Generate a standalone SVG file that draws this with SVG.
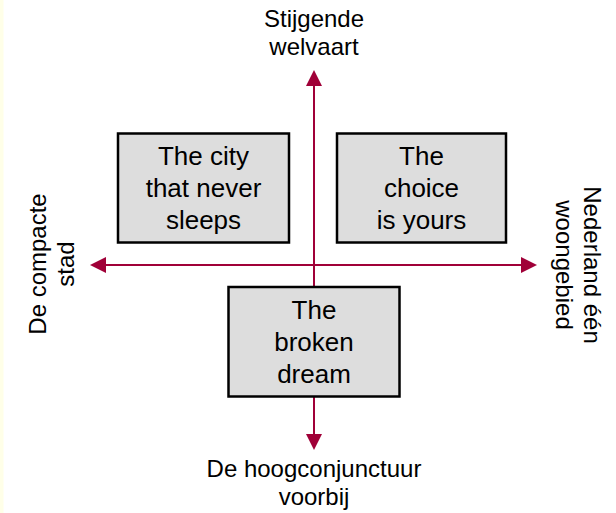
<svg xmlns="http://www.w3.org/2000/svg" width="616" height="513" viewBox="0 0 616 513">
  <style>
    .lbl { font-family: "Liberation Sans", Arial, sans-serif; font-size: 24px; fill: #000; text-anchor: middle; }
    .box rect { fill: #DDDDDD; stroke: #000; stroke-width: 2.5; }
    .box text { font-family: "Liberation Sans", Arial, sans-serif; font-size: 26px; fill: #000; text-anchor: middle; }
    .axis { stroke: #A00038; stroke-width: 2; fill: none; }
  </style>
  <defs>
    <marker id="ah" viewBox="0 0 16 16" refX="12" refY="8" markerWidth="16" markerHeight="16" markerUnits="userSpaceOnUse" orient="auto-start-reverse">
      <path d="M0,0 L16,8 L0,16 z" fill="#A00038"/>
    </marker>
  </defs>
  <rect x="0" y="0" width="616" height="513" fill="#FFFFFF"/>
  <rect x="0" y="0" width="3.5" height="513" fill="#FFFFE8"/>

  <g id="connectors">
    <line class="axis" x1="314" y1="446" x2="314" y2="74" marker-start="url(#ah)" marker-end="url(#ah)"/>
    <line class="axis" x1="94" y1="265" x2="533" y2="265" marker-start="url(#ah)" marker-end="url(#ah)"/>
  </g>

  <g id="label-top">
    <text class="lbl" x="314" y="27">Stijgende</text>
    <text class="lbl" x="314" y="54.6">welvaart</text>
  </g>
  <g id="label-bottom">
    <text class="lbl" x="314" y="477">De hoogconjunctuur</text>
    <text class="lbl" x="314" y="504.6">voorbij</text>
  </g>
  <g id="label-left">
    <text class="lbl" transform="translate(46,264) rotate(-90)">De compacte<tspan x="0" dy="27.6">stad</tspan></text>
  </g>
  <g id="label-right">
    <text class="lbl" transform="translate(584,265) rotate(90)">Nederland één<tspan x="0" dy="27.6">woongebied</tspan></text>
  </g>

  <g id="node-city" class="box">
    <rect x="118" y="133.5" width="171" height="109"/>
    <text x="203.5" y="165">The city</text>
    <text x="203.5" y="197">that never</text>
    <text x="203.5" y="229">sleeps</text>
  </g>
  <g id="node-choice" class="box">
    <rect x="337" y="133.5" width="169" height="109"/>
    <text x="421.5" y="165">The</text>
    <text x="421.5" y="197">choice</text>
    <text x="421.5" y="229">is yours</text>
  </g>
  <g id="node-broken" class="box">
    <rect x="228.5" y="287" width="171" height="109.5"/>
    <text x="314" y="319">The</text>
    <text x="314" y="351">broken</text>
    <text x="314" y="383">dream</text>
  </g>
</svg>
